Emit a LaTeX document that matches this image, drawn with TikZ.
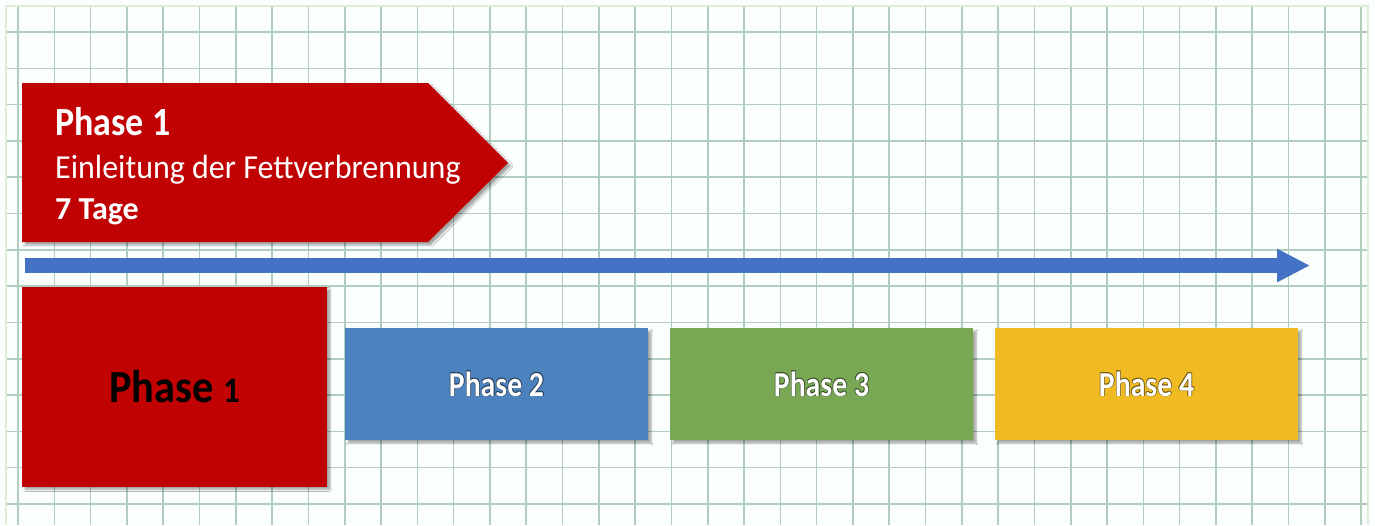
\documentclass[tikz,border=0pt]{standalone}
\usepackage{fontspec}
\setmainfont{Carlito}
\usetikzlibrary{arrows.meta,shadows.blur}
\definecolor{bgc}{RGB}{250,254,252}
\definecolor{gridc}{RGB}{176,205,192}
\definecolor{framec}{RGB}{222,238,214}
\definecolor{redc}{RGB}{192,2,2}
\definecolor{arrowblue}{RGB}{68,114,196}
\definecolor{boxblue}{RGB}{76,130,190}
\definecolor{boxgreen}{RGB}{120,168,84}
\definecolor{boxyellow}{RGB}{240,186,34}
\newcommand\boxlabelfont{\fontsize{35}{35}\selectfont\bfseries}
\newcommand\glowlbl[2]{\leavevmode
  \rlap{\color{#1}\hspace{0.9pt}\raisebox{-0.9pt}{#2}}%
  \rlap{\color{#1}\hspace{-0.6pt}\raisebox{0.6pt}{#2}}%
  \rlap{\color{#1}\hspace{0.6pt}\raisebox{0.6pt}{#2}}%
  \rlap{\color{#1}\hspace{-0.6pt}\raisebox{-0.6pt}{#2}}%
  \textcolor{white}{#2}}
\tikzset{
  gridline/.style={draw=gridc, line width=1.6pt},
  softshadow/.style={blur shadow={shadow xshift=3pt, shadow yshift=-3pt, shadow blur steps=6, shadow opacity=35}},
  phasebox/.style={rectangle, inner sep=0pt, minimum width=303pt, minimum height=112pt, softshadow},
  bantext/.style={anchor=base west, inner sep=0pt, text=white},
  timeline/.style={draw=arrowblue, line width=15pt, -{Triangle[length=33pt,width=31pt]}},
}
\begin{document}
\begin{tikzpicture}[x=1pt,y=-1pt]
\useasboundingbox (0,0) rectangle (1375,525);
\fill[bgc] (0,0) rectangle (1375,525);
\foreach \i in {0,...,37} \draw[gridline] ({18+36.3*\i},6) -- ({18+36.3*\i},525);
\foreach \j in {0,...,13} \draw[gridline] (6,{32+36.3*\j}) -- (1368,{32+36.3*\j});
\draw[framec, line width=2.5pt] (6,525) -- (6,6) -- (1368,6) -- (1368,525);

% banner
\fill[redc, softshadow] (22,83) -- (428,83) -- (508,163) -- (428,242) -- (22,242) -- cycle;
\node[bantext] (t1) at (55,135) {\scalebox{0.9}[1]{\fontsize{40}{40}\selectfont\bfseries Phase 1}};
\node[bantext] (t2) at (55,178) {\scalebox{1}[1.05]{\fontsize{32}{32}\selectfont Einleitung der Fettverbrennung}};
\node[bantext] (t3) at (55,219) {\fontsize{32}{32}\selectfont\bfseries 7 Tage};

% timeline
\coordinate (a0) at (25,265.5);
\coordinate (a1) at (1310,265.5);
\draw[timeline, draw=black, opacity=0.18, shift={(2,3)}] (a0) -- (a1);
\draw[timeline] (a0) -- (a1);

% phase boxes
\node[phasebox, fill=redc, minimum width=305pt, minimum height=200pt] (p1) at (174.5,386.5)
  {\scalebox{0.92}[1]{\bfseries\fontsize{46}{46}\selectfont Phase \fontsize{36}{36}\selectfont 1}};
\node[phasebox, fill=boxblue] (p2) at (496.5,384)
  {\scalebox{0.85}[1]{\boxlabelfont\glowlbl{boxblue!45!black}{Phase 2}}};
\node[phasebox, fill=boxgreen] (p3) at (821.5,384)
  {\scalebox{0.85}[1]{\boxlabelfont\glowlbl{boxgreen!45!black}{Phase 3}}};
\node[phasebox, fill=boxyellow] (p4) at (1146.5,384)
  {\scalebox{0.85}[1]{\boxlabelfont\glowlbl{boxyellow!45!black}{Phase 4}}};
\end{tikzpicture}
\end{document}
